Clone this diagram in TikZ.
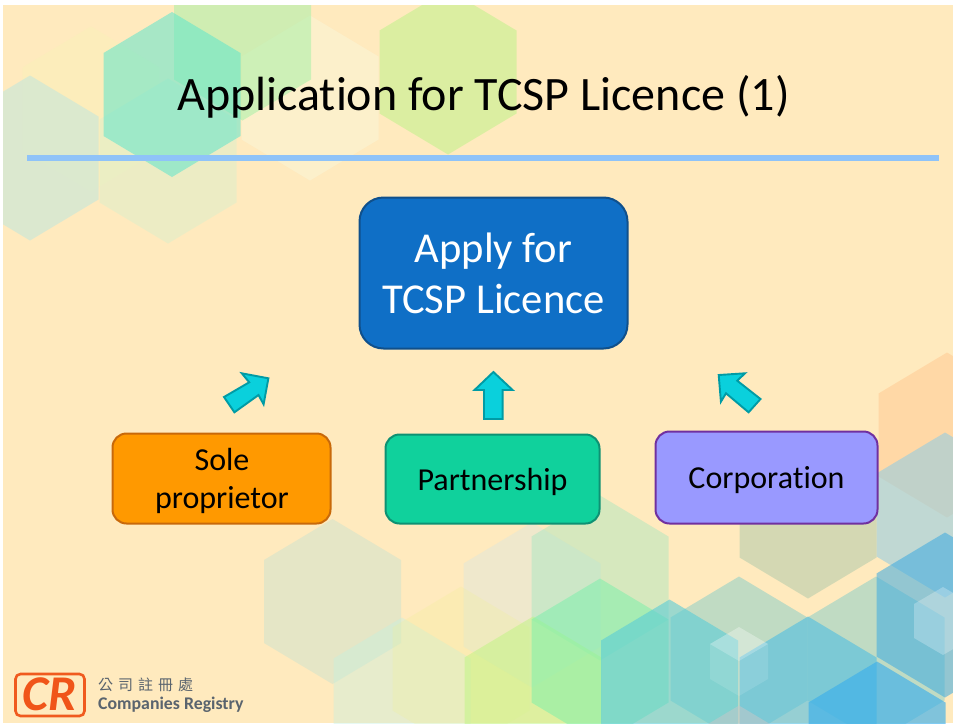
\documentclass[tikz,border=0pt]{standalone}
\usepackage{fontspec}
\setmainfont[Ligatures=NoCommon]{Carlito}
\newfontfamily\cjkfont{Noto Sans CJK TC}
\definecolor{slidebg}{RGB}{255,234,190}
\definecolor{rulec}{RGB}{143,195,248}
\definecolor{arrowf}{RGB}{10,208,220}
\definecolor{arrowd}{RGB}{0,155,165}
\definecolor{greyc}{RGB}{90,100,110}
\newcommand{\hexa}[4]{% cx cy colour opacity
  \definecolor{tmphex}{RGB}{#3}%
  \fill[tmphex,fill opacity=#4] (#1,#2-82.5) -- (#1+68.5,#2-41.5) -- (#1+68.5,#2+41.5) -- (#1,#2+82.5) -- (#1-68.5,#2+41.5) -- (#1-68.5,#2-41.5) -- cycle;}
\tikzset{
  x=1pt,y=-1pt,
  box/.style={draw,rounded corners=#1,line width=2pt,align=center,text=black,inner sep=0pt},
  blockarrow/.style={draw=arrowd,fill=arrowf,line width=1.9pt,miter limit=10},
  lab/.style={font=\fontsize{32}{38}\selectfont,align=center,text=black,inner sep=0pt}
}
\begin{document}
\begin{tikzpicture}
\useasboundingbox (0,0) rectangle (953,723);
\fill[white] (0,0) rectangle (953,723);
\fill[slidebg] (3,5) rectangle (953,723);
\begin{scope}
\clip (3,5) rectangle (953,723);
% top left
\hexa{91}{109}{250,240,185}{0.6}
\hexa{30}{158}{205,232,215}{0.7}
\hexa{168}{161}{215,240,205}{0.45}
\hexa{310}{98}{250,245,215}{0.55}
\hexa{242.5}{38}{175,240,170}{0.6}
\hexa{172}{94.5}{95,230,205}{0.55}
\hexa{448}{72}{205,240,150}{0.7}
% right
\hexa{947}{435}{255,205,150}{0.6}
\hexa{808}{516}{170,200,170}{0.5}
\hexa{945}{515}{150,205,225}{0.6}
% bottom
\hexa{332.5}{601.5}{190,225,210}{0.4}
\hexa{402}{700}{195,240,225}{0.4}
\hexa{532}{605}{215,230,225}{0.4}
\hexa{461}{669}{240,240,150}{0.25}
\hexa{600}{578}{140,230,190}{0.35}
\hexa{533}{699}{190,245,130}{0.5}
\hexa{600}{661}{120,240,170}{0.5}
\hexa{739}{659}{130,205,200}{0.5}
\hexa{876}{659}{130,205,200}{0.5}
\hexa{669.5}{682}{90,205,215}{0.6}
\hexa{808}{699}{80,190,225}{0.6}
\hexa{945}{615}{60,170,225}{0.55}
\hexa{877}{744}{60,175,235}{0.65}
\hexa{739}{788}{200,200,200}{0.5}
\hexa{877}{826}{200,200,200}{0.5}
% small white
\fill[white,fill opacity=.12] (739,627) -- (768,644) -- (768,679) -- (739,696) -- (710,679) -- (710,644) -- cycle;
\fill[white,fill opacity=.22] (739,627) -- (768,644) -- (739,661) -- (710,644) -- cycle;
\fill[white,fill opacity=.25] (943,587) -- (972,604) -- (972,638) -- (943,655) -- (914,638) -- (914,604) -- cycle;
\end{scope}
\fill[rulec] (27,154.5) rectangle (939,161);
\node[inner sep=0pt,text=black,font=\fontsize{48}{54}\selectfont] (title) at (483.5,97) {Application for TCSP Licence (1)};
\node[box=24pt,draw={rgb,255:red,15;green,80;blue,140},fill={rgb,255:red,15;green,111;blue,198},minimum width=268pt,minimum height=151pt,text=white,font=\fontsize{42.6}{51}\selectfont] (apply) at (493.5,273) {Apply for\\TCSP Licence};
\node[box=14pt,draw={rgb,255:red,200;green,105;blue,10},fill={rgb,255:red,255;green,153;blue,0},minimum width=218pt,minimum height=90pt] (sole) at (221.5,478.5) {};
\node[lab] at (222,481) {Sole\\proprietor};
\node[box=14pt,draw={rgb,255:red,14;green,145;blue,115},fill={rgb,255:red,16;green,209;blue,156},minimum width=214pt,minimum height=89pt] (part) at (492.5,479) {};
\node[lab] at (492.5,482) {Partnership};
\node[box=14pt,draw={rgb,255:red,112;green,48;blue,160},fill={rgb,255:red,153;green,153;blue,255},minimum width=222pt,minimum height=92pt] (corp) at (766.5,477.5) {};
\node[lab] at (766.5,480.5) {Corporation};
% block arrows
\draw[blockarrow] (224,397) -- (234.4,412.3) -- (258.5,395) -- (263.6,404.3) -- (268.4,378.3) -- (241.8,373.3) -- (249.2,382.3) -- cycle;
\draw[blockarrow] (484,419) -- (502.6,419) -- (502.6,390) -- (512.6,390) -- (493.4,372) -- (474.5,390) -- (484,390) -- cycle;
\draw[blockarrow] (760.5,399) -- (748.6,412.3) -- (726,393.3) -- (720.9,401.7) -- (718.7,375) -- (745,373.3) -- (737.2,380.7) -- cycle;
% logo
\node[draw={rgb,255:red,240;green,90;blue,30},line width=2.6pt,rounded corners=5pt,minimum width=69pt,minimum height=42pt,inner sep=0pt] (logo) at (50,695) {};
\node[inner sep=0pt,text={rgb,255:red,240;green,85;blue,25},font=\fontsize{50}{50}\bfseries\itshape\selectfont] (cr) at (50,694.5) {CR};
\node[anchor=west,inner sep=0pt,text=greyc,font=\fontsize{15}{16}\cjkfont\selectfont] (cjk) at (98,685) {公\hspace{5pt}司\hspace{5pt}註\hspace{5pt}冊\hspace{5pt}處};
\node[anchor=west,inner sep=0pt,text=greyc,font=\fontsize{17.8}{20}\bfseries\selectfont] (en) at (98,705) {Companies Registry};
\end{tikzpicture}
\end{document}
